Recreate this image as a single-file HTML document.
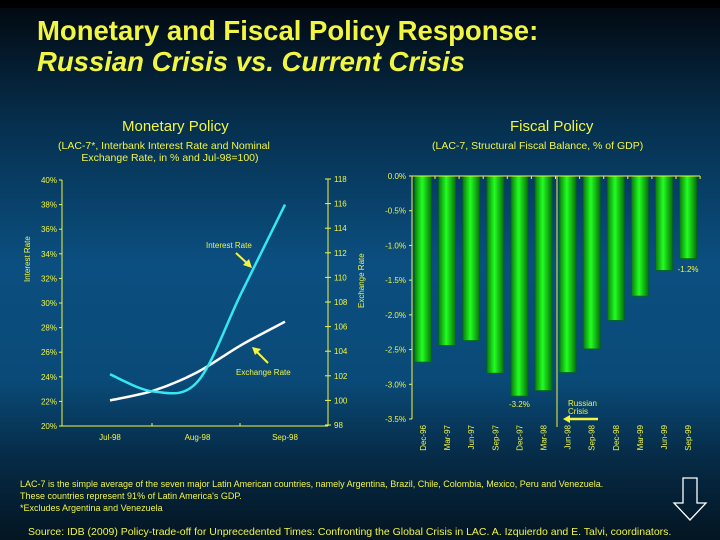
<!DOCTYPE html>
<html><head><meta charset="utf-8"><style>
html,body{margin:0;padding:0;}
body{width:720px;height:540px;overflow:hidden;background:#000;font-family:"Liberation Sans",sans-serif;}
#bg{position:absolute;left:0;top:8px;width:720px;height:532px;background:linear-gradient(180deg,#020a12 0%,#06304f 22%,#0b4f80 48%,#0a4a78 70%,#062a45 85%,#031522 100%);}
.t{position:absolute;color:#f2f542;white-space:nowrap;}
</style></head><body>
<div id="bg"></div>
<div class="t" style="left:37px;top:15px;font-size:27.5px;font-weight:bold;line-height:31px;">Monetary and Fiscal Policy Response:<br><i>Russian Crisis vs. Current Crisis</i></div>
<div class="t" style="left:122px;top:118px;font-size:15px;">Monetary Policy</div>
<div class="t" style="left:58px;top:140px;font-size:10.5px;line-height:12px;">(LAC-7*, Interbank Interest Rate and Nominal<br>&nbsp;&nbsp;&nbsp;&nbsp;&nbsp;&nbsp;&nbsp;&nbsp;Exchange Rate, in % and Jul-98=100)</div>
<div class="t" style="left:510px;top:118px;font-size:15px;">Fiscal Policy</div>
<div class="t" style="left:432px;top:140px;font-size:10.5px;">(LAC-7, Structural Fiscal Balance, % of GDP)</div>
<svg id="c" width="720" height="540" style="position:absolute;left:0;top:0" font-family="Liberation Sans, sans-serif"></svg>
<div class="t" style="left:20px;top:478px;font-size:9px;line-height:12px;transform:scaleX(1.0);">LAC-7 is the simple average of the seven major Latin American countries, namely Argentina, Brazil, Chile, Colombia, Mexico, Peru and Venezuela.<br>These countries represent 91% of Latin America's GDP.<br>*Excludes Argentina and Venezuela</div>
<div class="t" style="left:28px;top:526px;font-size:10.5px;">Source: IDB (2009) Policy-trade-off for Unprecedented Times: Confronting the Global Crisis in LAC. A. Izquierdo and E. Talvi, coordinators.</div>
<svg width="720" height="540" style="position:absolute;left:0;top:0"><path d="M683 478 H697 V503 H706 L690 520 L674 503 H683 Z" fill="none" stroke="#fff" stroke-width="1.3"/></svg>
<script>
const lineCats=["Jul-98","","Aug-98","","Sep-98"];
const interest=[24.2,22.8,23.6,30.8,38.0];
const exchange=[100.0,100.8,102.3,104.5,106.4];
const leftTicks=[20,22,24,26,28,30,32,34,36,38,40];
const rightTicks=[98,100,102,104,106,108,110,112,114,116,118];
const barCats=["Dec-96","Mar-97","Jun-97","Sep-97","Dec-97","Mar-98","Jun-98","Sep-98","Dec-98","Mar-99","Jun-99","Sep-99"];
const balance=[-2.68,-2.44,-2.37,-2.84,-3.17,-3.09,-2.83,-2.49,-2.08,-1.73,-1.36,-1.19];
const balTicks=[0,-0.5,-1,-1.5,-2,-2.5,-3,-3.5];

const svg=document.getElementById('c');const NS='http://www.w3.org/2000/svg';
const Y='#f2f542';
function el(t,a,txt){const e=document.createElementNS(NS,t);for(const k in a)e.setAttribute(k,a[k]);if(txt!==undefined)e.textContent=txt;svg.appendChild(e);return e;}
// left chart
const yL=v=>426-(v-20)/20*246, yR=v=>425-(v-98)/20*246, xL=i=>110+i*43.75;
let e=el('line',{x1:62,y1:180,x2:62,y2:426,stroke:Y,'stroke-width':1});

e=el('line',{x1:62,y1:426,x2:328,y2:426,stroke:Y});

e=el('line',{x1:328,y1:179,x2:328,y2:426,stroke:Y});

leftTicks.forEach(v=>{const y=yL(v);el('line',{x1:59,y1:y,x2:62,y2:y,stroke:Y});
e=el('text',{x:57,y:y+3,'text-anchor':'end','font-size':8,fill:Y},v+'%');
});
rightTicks.forEach(v=>{const y=yR(v);el('line',{x1:325,y1:y,x2:331,y2:y,stroke:Y});
e=el('text',{x:334,y:y+3,'font-size':8,fill:Y},v);
});
[152,240].forEach(x=>el('line',{x1:x,y1:423,x2:x,y2:426,stroke:Y}));
lineCats.forEach((c,i)=>{if(!c)return;e=el('text',{x:xL(i),y:440,'text-anchor':'middle','font-size':8,fill:Y},c);
});
function smooth(pts){let d='M'+pts[0][0]+' '+pts[0][1];for(let i=0;i<pts.length-1;i++){const p0=pts[Math.max(0,i-1)],p1=pts[i],p2=pts[i+1],p3=pts[Math.min(pts.length-1,i+2)];
d+=` C${p1[0]+(p2[0]-p0[0])/6} ${p1[1]+(p2[1]-p0[1])/6} ${p2[0]-(p3[0]-p1[0])/6} ${p2[1]-(p3[1]-p1[1])/6} ${p2[0]} ${p2[1]}`;}return d;}
e=el('path',{d:smooth(exchange.map((v,i)=>[xL(i),yR(v)])),fill:'none',stroke:'#fff','stroke-width':2.5});

e=el('path',{d:smooth(interest.map((v,i)=>[xL(i),yL(v)])),fill:'none',stroke:'#33e8f0','stroke-width':2.5});

e=el('text',{x:206,y:248,'font-size':8,fill:Y},'Interest Rate');

el('line',{x1:236,y1:253,x2:249,y2:265,stroke:Y,'stroke-width':2});el('path',{d:'M252 268 L243 265 L249 259 Z',fill:Y});
e=el('text',{x:236,y:375,'font-size':8,fill:Y},'Exchange Rate');

el('line',{x1:268,y1:363,x2:256,y2:351,stroke:Y,'stroke-width':2});el('path',{d:'M252 347 L261 349 L255 355 Z',fill:Y});
e=el('text',{x:0,y:0,'font-size':8,fill:Y,transform:'translate(30,282) rotate(-90)'},'Interest Rate');

e=el('text',{x:0,y:0,'font-size':8,fill:Y,transform:'translate(364,308) rotate(-90)'},'Exchange Rate');

// bar chart
const defs=el('defs',{});const g=document.createElementNS(NS,'linearGradient');g.setAttribute('id','gb');
[['0','#0a7a0a'],['0.45','#22ff22'],['1','#087008']].forEach(s=>{const st=document.createElementNS(NS,'stop');st.setAttribute('offset',s[0]);st.setAttribute('stop-color',s[1]);g.appendChild(st);});defs.appendChild(g);
const yB=v=>176+v/(-3.5)*243, xB=i=>423+i*24.1;
e=el('line',{x1:412,y1:176,x2:412,y2:419,stroke:Y});

balTicks.forEach(v=>{const y=yB(v);el('line',{x1:409,y1:y,x2:412,y2:y,stroke:Y});
e=el('text',{x:406,y:y+3,'text-anchor':'end','font-size':8,fill:Y},v.toFixed(1)+'%');
});
balance.forEach((v,i)=>{const x=xB(i);e=el('rect',{x:x-8.5,y:176,width:17,height:yB(v)-176,fill:'url(#gb)',stroke:'#062',"stroke-width":0.8});

el('line',{x1:x+12,y1:176,x2:x+12,y2:179,stroke:Y});
e=el('text',{x:0,y:0,'font-size':8,fill:Y,'text-anchor':'end',transform:`translate(${x+3},425) rotate(-90)`},barCats[i]);
});
e=el('line',{x1:412,y1:176,x2:700,y2:176,stroke:Y});

e=el('text',{x:xB(4),y:407,'text-anchor':'middle','font-size':8,fill:Y},balance[4].toFixed(1)+'%');

e=el('text',{x:xB(11),y:272,'text-anchor':'middle','font-size':8,fill:Y},balance[11].toFixed(1)+'%');

e=el('line',{x1:557,y1:176,x2:557,y2:427,stroke:Y});

e=el('text',{x:568,y:406,'font-size':8,fill:Y},'Russian');

el('text',{x:568,y:414,'font-size':8,fill:Y},'Crisis');
el('line',{x1:568,y1:419,x2:598,y2:419,stroke:Y,'stroke-width':2.5});el('path',{d:'M563 419 L570 415 L570 423 Z',fill:Y});
</script>
</body></html>
